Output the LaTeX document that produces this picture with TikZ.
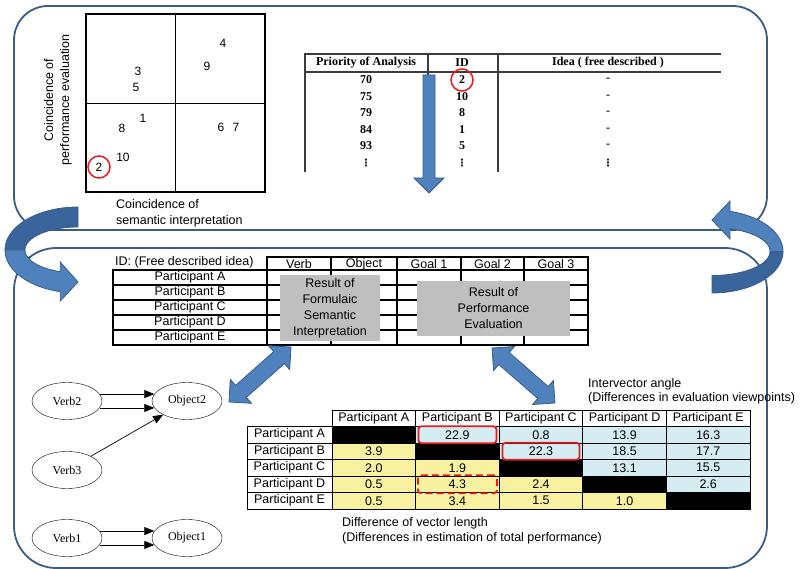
\documentclass[tikz,border=0pt]{standalone}
\usepackage{fontspec}
\setmainfont{Liberation Sans}
\newfontfamily\tabserif{Liberation Serif}
\newfontfamily\dotfont{DejaVu Sans}
\usepackage{tikz}
\usetikzlibrary{arrows.meta, positioning, shapes.geometric}

\begin{document}
\begin{tikzpicture}[
    x=1pt, y=-1pt,
    panel/.style={draw=panelblue, line width=1.8pt, rounded corners=34pt},
    blockarrow/.style={fill=arrowblue, draw=panelblue, line width=0.8pt},
    num/.style={font=\fontsize{12}{14}\selectfont, inner sep=1pt},
    label/.style={font=\fontsize{12.5}{16}\selectfont, inner sep=0pt},
    serifcell/.style={font=\tabserif\bfseries\fontsize{12}{14}\selectfont, inner sep=0pt},
    dotcell/.style={font=\dotfont\bfseries\fontsize{10}{10}\selectfont, inner sep=0pt},
    pcell/.style={font=\fontsize{12.5}{14}\selectfont, inner sep=0pt},
    graybox/.style={fill=boxgray, align=center, font=\fontsize{12.5}{16}\selectfont, inner sep=0pt},
    oval/.style={ellipse, draw, minimum width=70pt, minimum height=37pt, inner sep=0pt, font=\tabserif\fontsize{12}{14}\selectfont},
    garrow/.style={-{Triangle[length=10pt, width=8pt]}, line width=0.7pt},
    mcell/.style={draw, line width=0.8pt, minimum width=83.6pt, minimum height=16.5pt, inner sep=0pt, font=\fontsize{12.5}{14}\selectfont},
    redmark/.style={draw=markred, line width=1.8pt, rounded corners=3pt, inner sep=0pt}
]

% Colors
\definecolor{panelblue}{RGB}{56,93,138}
\definecolor{arrowblue}{RGB}{79,129,189}
\definecolor{swooshdark}{RGB}{58,100,156}
\definecolor{boxgray}{RGB}{191,191,191}
\definecolor{cellblue}{RGB}{214,236,243}
\definecolor{cellyellow}{RGB}{247,241,160}
\definecolor{markred}{RGB}{228,28,28}
\definecolor{rulegray}{RGB}{60,60,60}

\useasboundingbox (0,0) rectangle (803,569);

% Panels
\draw[panel] (14,6) rectangle (767,230);
\draw[panel, rounded corners=42pt] (14,248) rectangle (767,568);

% Quadrant chart
\node[draw, line width=2pt, minimum width=179pt, minimum height=178pt, inner sep=0pt] (quad) at (175.5,103) {};
\draw[line width=0.8pt] (quad.north) -- (quad.south);
\draw[line width=0.8pt] (quad.west) -- (quad.east);

\node[num] (n4) at (223,43) {4};
\node[num] (n9) at (207,66) {9};
\node[num] (n3) at (138,71) {3};
\node[num] (n5) at (136,87) {5};
\node[num] (n1) at (143,118) {1};
\node[num] (n8) at (122,128) {8};
\node[num] (n6) at (221,127) {6};
\node[num] (n7) at (236,127) {7};
\node[num] (n10) at (123,157) {10};
\node[num, circle, draw=markred, line width=1.5pt, minimum size=22pt, inner sep=0pt] (n2) at (99,167) {2};

\node[label, rotate=90, align=center] (ylab) at (58,100)
{Coincidence of\\performance evaluation};
\node[label, anchor=north west, align=left] (xlab) at (116,199)
{Coincidence of\\semantic interpretation};

% Priority table
\draw[rulegray, line width=1.2pt] (304,54) -- (721,54);
\draw[rulegray, line width=1.2pt] (304,72) -- (721,72);
\draw[rulegray, line width=1.2pt] (305,54) -- (305,172);
\draw[rulegray, line width=1.2pt] (428,54) -- (428,172);
\draw[rulegray, line width=1.2pt] (498,54) -- (498,172);

\node[serifcell] (hprio) at (366,63) {Priority of Analysis};
\node[serifcell] (hid) at (462,63) {ID};
\node[serifcell] (hidea) at (608,63) {Idea ( free described )};

\foreach \p/\d [count=\k] in {70/2, 75/10, 79/8, 84/1, 93/5} {
  \node[serifcell] (p\k) at (366,{80+16.5*(\k-1)}) {\p};
  \node[serifcell] (d\k) at (462,{80+16.5*(\k-1)}) {\d};
  \node[serifcell] (i\k) at (608,{80+16.5*(\k-1)}) {-};
}
\node[dotcell] (pdots) at (366,163) {⋮};
\node[dotcell] (ddots) at (462,163) {⋮};
\node[dotcell] (idots) at (608,163) {⋮};
\node[circle, draw=markred, line width=1.5pt, minimum size=22pt, inner sep=0pt] (ring) at (d1) {};

\draw[blockarrow] (423,75) -- (435,75) -- (435,178) -- (444,178) -- (429,193)
  -- (414,178) -- (423,178) -- cycle;

% Result table
\node[pcell, anchor=west] (idlab) at (115,262) {ID: (Free described idea)};
\draw[line width=1.6pt] (267,257) rectangle (588,345);
\draw[line width=1.6pt] (113,270) rectangle (588,345);
\foreach \x in {331,397,461,524} \draw[line width=1.2pt] (\x,257) -- (\x,345);
\foreach \y in {285,300,315,330} \draw[line width=1.2pt] (113,\y) -- (588,\y);

\node[pcell] (verb) at (299,264) {Verb};
\node[pcell] (object) at (364,264) {Object};
\node[pcell] (goal1) at (429,264) {Goal 1};
\node[pcell] (goal2) at (492.5,264) {Goal 2};
\node[pcell] (goal3) at (556,264) {Goal 3};
\foreach \n [count=\k] in {A,B,C,D,E}
  \node[pcell] (part\n) at (190,{277.5+15*(\k-1)}) {Participant \n};

\node[graybox, minimum width=100pt, minimum height=66pt] (fsi) at (330,308)
{Result of\\Formulaic\\Semantic\\Interpretation};
\node[graybox, minimum width=153pt, minimum height=55pt] (perf) at (493.5,308.5)
{Result of\\Performance\\Evaluation};

% Double arrows
\draw[blockarrow] (229,402) -- (251.6,403.3) -- (246.3,397.4) -- (284.4,363.6)
  -- (289.7,369.6) -- (291,347) -- (268.4,345.7) -- (273.7,351.6)
  -- (235.6,385.4) -- (230.3,379.4) -- cycle;
\draw[blockarrow] (492,348) -- (514.5,346.5) -- (509.3,352.5) -- (548.2,386.5)
  -- (553.4,380.5) -- (555,403) -- (532.5,404.5) -- (537.7,398.5)
  -- (498.8,364.5) -- (493.6,370.5) -- cycle;

% Verb-object graph
\node[oval] (verb2) at (67,401) {Verb2};
\node[oval] (obj2) at (187,401) {Object2};
\node[oval] (verb3) at (67,470) {Verb3};
\node[oval] (verb1) at (67,538) {Verb1};
\node[oval] (obj1) at (187,538) {Object1};

\draw[garrow] (verb2.12) -- (obj2.168);
\draw[garrow] (verb2.-12) -- (obj2.-168);
\draw[garrow] (verb3) -- (obj2);
\draw[garrow] (verb1.12) -- (obj1.168);
\draw[garrow] (verb1.-12) -- (obj1.-168);

% Participant matrix
\foreach \n [count=\j] in {A,B,C,D,E}
  \node[mcell] (h\j) at ({332+83.6*\j-41.8},418.25) {Participant \n};
\foreach \n/\vals [count=\i] in {A/{0,22.9,0.8,13.9,16.3}, B/{3.9,0,22.3,18.5,17.7},
    C/{2.0,1.9,0,13.1,15.5}, D/{0.5,4.3,2.4,0,2.6}, E/{0.5,3.4,1.5,1.0,0}} {
  \node[mcell, minimum width=85pt] (r\i) at (289.5,{426.5+16.5*\i-8.25}) {Participant \n};
  \foreach \v [count=\j] in \vals {
    \ifnum\j<\i \def\cellfill{cellyellow}\else\ifnum\j>\i \def\cellfill{cellblue}\else\def\cellfill{black}\fi\fi
    \node[mcell, fill=\cellfill] (m\i\j) at ({332+83.6*\j-41.8},{426.5+16.5*\i-8.25}) {\ifnum\i=\j\else\v\fi};
  }
}

\node[redmark, minimum width=78pt, minimum height=17pt] (mk1) at (m12) {};
\node[redmark, minimum width=77pt, minimum height=17pt] (mk2) at (m23) {};
\node[redmark, dash pattern=on 7pt off 4pt, minimum width=79pt, minimum height=18pt] (mk3) at (m42) {};

% Annotation
\node[label, anchor=west, align=left, font=\fontsize{12.5}{14}\selectfont] (angle) at (588,391)
{Intervector angle\\(Differences in evaluation viewpoints)};
\node[label, anchor=west, align=left, font=\fontsize{12.5}{15}\selectfont] (length) at (342,530.5)
{Difference of vector length\\(Differences in estimation of total performance)};

% Curved arrows between panels
\filldraw[fill=swooshdark, draw=panelblue, line width=0.8pt]
  plot[domain=90:180, samples=30] ({78+73*cos(\x)},{250-43*sin(\x)})
  -- plot[domain=180:90, samples=30] ({78+53*cos(\x)},{250-23*sin(\x)}) -- cycle;
\filldraw[fill=arrowblue, draw=panelblue, line width=0.8pt]
  plot[domain=180:256, samples=30] ({78+73*cos(\x)},{250-43*sin(\x)})
  -- (60.3,301) -- (78,282) -- (60.3,262)
  -- plot[domain=250.5:180, samples=30] ({78+53*cos(\x)},{250-23*sin(\x)}) -- cycle;

\filldraw[fill=swooshdark, draw=panelblue, line width=0.8pt]
  plot[domain=270:360, samples=30] ({712+71*cos(\x)},{251.5-41.5*sin(\x)})
  -- plot[domain=360:270, samples=30] ({712+58*cos(\x)},{251.5-24*sin(\x)}) -- cycle;
\filldraw[fill=arrowblue, draw=panelblue, line width=0.8pt]
  plot[domain=0:75.3, samples=30] ({712+71*cos(\x)},{251.5-41.5*sin(\x)})
  -- (730,201) -- (712,220) -- (730,239)
  -- plot[domain=71.9:0, samples=30] ({712+58*cos(\x)},{251.5-24*sin(\x)}) -- cycle;

\end{tikzpicture}
\end{document}
